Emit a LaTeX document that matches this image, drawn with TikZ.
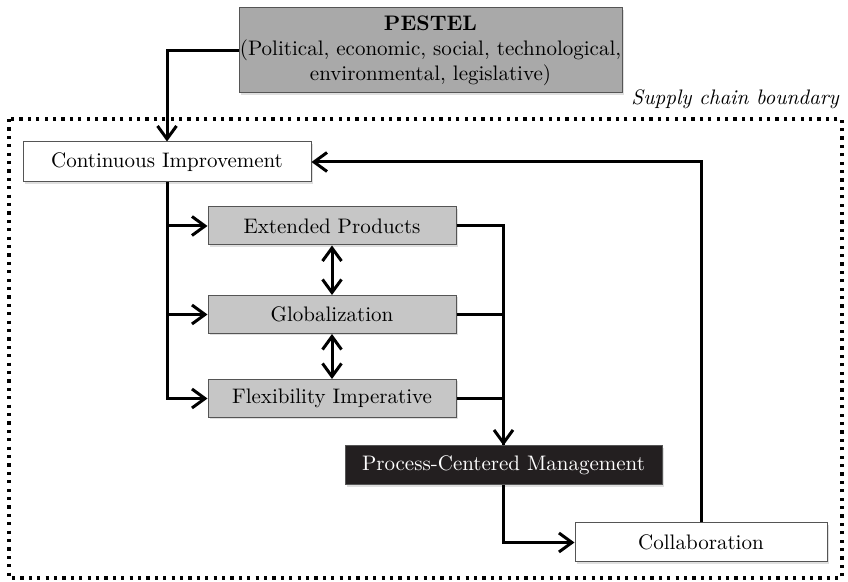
\documentclass[tikz,border=0pt]{standalone}
\usepackage{tikz}
\usetikzlibrary{arrows.meta, shadows}
\definecolor{pestgray}{HTML}{A9A9A9}
\definecolor{boxgray}{HTML}{C6C6C6}
\definecolor{boxline}{HTML}{555555}
\definecolor{pcmblack}{HTML}{231F20}
\tikzset{
  box/.style={draw=boxline, line width=0.5pt, fill=white, inner sep=0pt,
    font=\fontsize{10.5}{12.5}\selectfont, align=center,
    drop shadow={shadow xshift=1pt, shadow yshift=-1pt, opacity=0.25}},
  graybox/.style={box, fill=boxgray, minimum width=124pt, minimum height=19pt},
  tip/.style={Straight Barb[length=6.5pt, width=9.5pt, line width=1.5pt]},
  flow/.style={line width=1.5pt, -{Straight Barb[length=6.5pt, width=9.5pt, line width=1.5pt]}},
  bothflow/.style={line width=1.5pt, {Straight Barb[length=6.5pt, width=9.5pt, line width=1.5pt]}-{Straight Barb[length=6.5pt, width=9.5pt, line width=1.5pt]}},
  plain/.style={line width=1.5pt},
  boundary/.style={line width=1.6pt, dash pattern=on 1.6pt off 2.6pt}
}

\begin{document}
\begin{tikzpicture}[x=0.5pt, y=-0.5pt]
  \useasboundingbox (0,0) rectangle (848,582);
  % supply chain boundary
  \draw[boundary] (9,119) rectangle (842,578);
  \node[anchor=east, font=\fontsize{10.5}{12}\selectfont\itshape] (bndlabel) at (846,99) {Supply chain boundary};

  \node[box, fill=pestgray, minimum width=191.5pt, minimum height=42.5pt] (pestel) at (430.5,50.5)
    {\textbf{PESTEL}\\(Political, economic, social, technological,\\environmental, legislative)};
  \node[box, minimum width=144pt, minimum height=20pt] (ci) at (167,162) {Continuous Improvement};
  \node[graybox] (ext) at (332,226) {Extended Products};
  \node[graybox] (glob) at (332,314.5) {Globalization};
  \node[graybox] (flex) at (332,398.5) {Flexibility Imperative};
  \node[box, fill=pcmblack, text=white, minimum width=158.5pt, minimum height=19.5pt] (pcm) at (503.5,465.5) {Process-Centered Management};
  \node[box, minimum width=126pt, minimum height=19.5pt] (collab) at (701,542.5) {Collaboration};

  \draw[flow] (pestel.west) -| (ci.north);
  \draw[flow] (ci.south) |- (ext.west);
  \draw[flow] (ci.south) |- (glob.west);
  \draw[flow] (ci.south) |- (flex.west);
  \draw[bothflow] (ext.south) -- (glob.north);
  \draw[bothflow] (glob.south) -- (flex.north);
  \draw[flow] (ext.east) -| (pcm.north);
  \draw[plain] (glob.east) -| (pcm.north);
  \draw[plain] (flex.east) -| (pcm.north);
  \draw[flow] (pcm.south) |- (collab.west);
  \draw[flow] (collab.north) |- (ci.east);
\end{tikzpicture}
\end{document}
